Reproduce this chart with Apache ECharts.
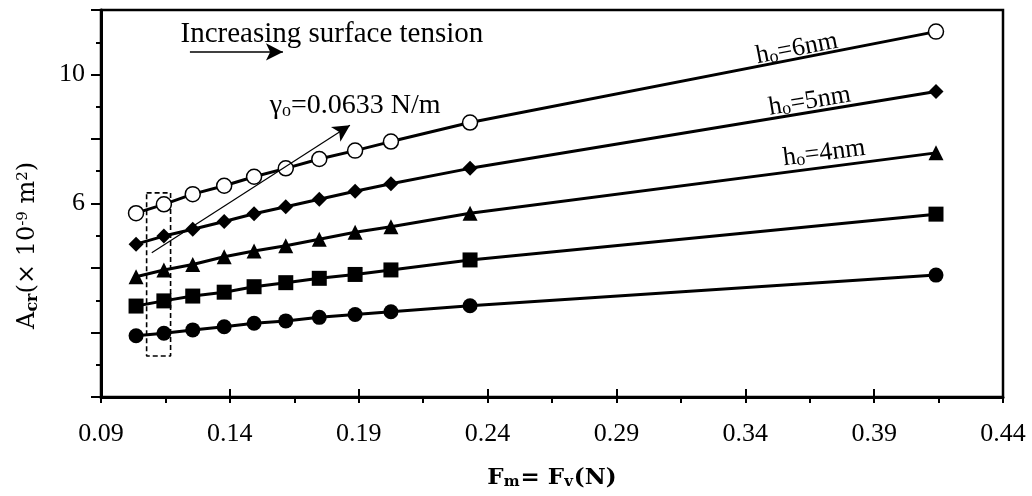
<!DOCTYPE html>
<html><head><meta charset="utf-8">
<script src="https://cdn.jsdelivr.net/npm/echarts@6/dist/echarts.min.js"></script>
<style>html,body{margin:0;padding:0;background:#fff}#c{width:1032px;height:496px}</style>
</head><body><div id="c"></div>
<script>
// ---- data ----
const forces = [0.1036, 0.1144, 0.1256, 0.1378, 0.1494, 0.1617, 0.1747, 0.1886, 0.2025, 0.2332, 0.414];
const areaH6 = [5.70, 5.975, 6.29, 6.55, 6.83, 7.09, 7.38, 7.64, 7.92, 8.51, 11.33];   // open circles
const areaH5 = [4.74, 4.99, 5.20, 5.44, 5.68, 5.90, 6.13, 6.38, 6.61, 7.09, 9.47];    // diamonds
const areaH4 = [3.73, 3.94, 4.11, 4.35, 4.53, 4.69, 4.89, 5.11, 5.28, 5.70, 7.57];    // triangles
const areaSq = [2.82, 2.98, 3.13, 3.25, 3.42, 3.545, 3.68, 3.80, 3.94, 4.25, 5.67];   // squares
const areaCi = [1.90, 1.975, 2.08, 2.18, 2.285, 2.36, 2.47, 2.56, 2.645, 2.83, 3.78]; // filled circles
const xTicks = [0.09, 0.14, 0.19, 0.24, 0.29, 0.34, 0.39, 0.44];
const yLabelled = [6, 10];
const boxX = [0.1077, 0.1170];
const boxY = [1.27, 6.33];
const arrowTension = [[0.1245, 10.70], [0.1606, 10.70]];
const arrowGamma = [[0.1097, 4.47], [0.1866, 8.43]];
const hLabels = [
  {text: '6nm', x: 0.360, y: 10.80, series: areaH6},
  {text: '5nm', x: 0.365, y: 9.17, series: areaH5},
  {text: '4nm', x: 0.3706, y: 7.56, series: areaH4}
];
const tensionText = {text: 'Increasing surface tension', x: 0.1796, y: 11.25};
const gammaText = {value: '=0.0633 N/m', x: 0.1886, y: 9.02};
const yTitlePos = {x: 0.0617, y: 4.7};

const serif = '"Liberation Serif", "Times New Roman", serif';
const titleFont = '"DejaVu Serif", serif';
const pair = arr => forces.map((f, i) => [f, arr[i]]);

function markerSeries(name, arr, symbol, size, open) {
  return {
    name, type: 'line', data: pair(arr), symbol, symbolSize: size,
    showSymbol: true,
    lineStyle: {color: '#000', width: 3},
    itemStyle: open ? {color: '#fff', borderColor: '#000', borderWidth: 1.5}
                    : {color: '#000', borderColor: '#000', borderWidth: 0},
    z: 3, silent: true
  };
}

const boxData = [[boxX[0], boxY[1]], [boxX[1], boxY[1]], [boxX[1], boxY[0]], [boxX[0], boxY[0]], [boxX[0], boxY[1]]];

const option = {
  animation: false,
  backgroundColor: '#fff',
  grid: {left: 101, right: 29, top: 10, bottom: 99, show: true, borderColor: '#000', borderWidth: 2.5, backgroundColor: 'transparent'},
  xAxis: [{
    type: 'value', min: 0.09, max: 0.44, interval: 0.05,
    axisLine: {show: true, onZero: false, lineStyle: {color: '#000', width: 3}},
    axisTick: {show: true, length: 6, lineStyle: {color: '#000', width: 2}},
    minorTick: {show: true, splitNumber: 2, length: 6, lineStyle: {color: '#000', width: 2}},
    splitLine: {show: false},
    axisLabel: {margin: 24, fontFamily: serif, fontSize: 26, color: '#000',
      formatter: v => { const t = xTicks.find(k => Math.abs(k - v) < 1e-6); return t !== undefined ? t.toFixed(2) : ''; }},
    name: '{b|F}{s|m}{b|= F}{s|v}{b|(N)}', nameLocation: 'middle', nameGap: 70,
    nameTextStyle: {rich: {
      b: {fontFamily: titleFont, fontWeight: 'bold', fontSize: 23, color: '#000'},
      s: {fontFamily: titleFont, fontWeight: 'bold', fontSize: 15, color: '#000', verticalAlign: 'bottom', padding: [7, 1, 0, 0]}
    }}
  }, {
    type: 'value', min: 0.09, max: 0.44, interval: 0.05, position: 'bottom',
    axisLine: {show: false}, axisLabel: {show: false}, splitLine: {show: false},
    axisTick: {show: true, inside: true, length: 8, lineStyle: {color: '#000', width: 2}}
  }],
  yAxis: {
    type: 'value', min: 0, max: 12, interval: 2,
    axisLine: {show: true, onZero: false, lineStyle: {color: '#000', width: 3}},
    axisTick: {show: true, length: 10, lineStyle: {color: '#000', width: 2}},
    minorTick: {show: true, splitNumber: 2, length: 5, lineStyle: {color: '#000', width: 2}},
    splitLine: {show: false},
    axisLabel: {margin: 16, fontFamily: serif, fontSize: 26, color: '#000',
      formatter: v => yLabelled.indexOf(v) >= 0 ? String(v) : ''}
  },
  series: [
    markerSeries('h6', areaH6, 'circle', 15, true),
    markerSeries('h5', areaH5, 'diamond', 15, false),
    markerSeries('h4', areaH4, 'triangle', 15, false),
    markerSeries('sq', areaSq, 'rect', 15, false),
    markerSeries('ci', areaCi, 'circle', 15, false),
    {
      name: 'box', type: 'line', data: boxData, symbol: 'none', silent: true,
      lineStyle: {color: '#000', width: 1.6, type: [5, 3]}, z: 2
    },
    {
      name: 'arrows', type: 'line', data: [], silent: true,
      markLine: {
        silent: true, animation: false, label: {show: false},
        symbol: ['none', 'arrow'], symbolSize: [13, 17],
        data: [
          [{coord: arrowTension[0], lineStyle: {color: '#000', width: 1.6, type: 'solid'}}, {coord: arrowTension[1]}],
          [{coord: arrowGamma[0], lineStyle: {color: '#000', width: 1.2, type: 'solid'}}, {coord: arrowGamma[1]}]
        ]
      }
    }
  ]
};

const chart = echarts.init(document.getElementById('c'), null, {renderer: 'canvas'});
chart.setOption(option);

const px = (x, y) => chart.convertToPixel({gridIndex: 0}, [x, y]);
const graphics = [];
const t1 = px(tensionText.x, tensionText.y);
graphics.push({type: 'text', x: t1[0], y: t1[1], style: {text: tensionText.text, font: '29px ' + serif, fill: '#000', align: 'center', verticalAlign: 'middle'}, z: 10});
const g1 = px(gammaText.x, gammaText.y);
graphics.push({type: 'text', x: g1[0], y: g1[1], style: {
  text: '{g|γ}{o|o}{g|' + gammaText.value + '}', align: 'center', verticalAlign: 'middle',
  rich: {g: {font: '28px ' + serif, fill: '#000'}, o: {font: '18px ' + serif, fill: '#000', verticalAlign: 'bottom', padding: [4, 0, 0, 0]}}
}, z: 10});
hLabels.forEach(h => {
  const a = px(forces[forces.length - 2], h.series[h.series.length - 2]);
  const b = px(forces[forces.length - 1], h.series[h.series.length - 1]);
  const ang = Math.atan2(a[1] - b[1], b[0] - a[0]);
  const c = px(h.x, h.y);
  graphics.push({type: 'text', x: c[0], y: c[1], rotation: ang, style: {
    text: '{g|h}{o|o}{g|=' + h.text + '}', align: 'center', verticalAlign: 'middle',
    rich: {g: {font: '26px ' + serif, fill: '#000'}, o: {font: '18px ' + serif, fill: '#000', verticalAlign: 'bottom', padding: [8, 0, 0, 0]}}
  }, z: 10});
});
const yt = px(yTitlePos.x, yTitlePos.y);
graphics.push({type: 'text', x: yt[0], y: yt[1], rotation: Math.PI / 2, style: {
  text: '{a|A}{s|cr}{a|(× 10}{p|-9}{a| m}{p|2}{a|)}', align: 'center', verticalAlign: 'middle',
  rich: {
    a: {font: '24px ' + titleFont, fill: '#000'},
    s: {font: 'bold 16px ' + titleFont, fill: '#000', verticalAlign: 'bottom', padding: [9, 0, 0, 0]},
    p: {font: '15px ' + titleFont, fill: '#000', verticalAlign: 'top', padding: [0, 0, 9, 0]}
  }
}, z: 10});
chart.setOption({graphic: graphics});
</script></body></html>
